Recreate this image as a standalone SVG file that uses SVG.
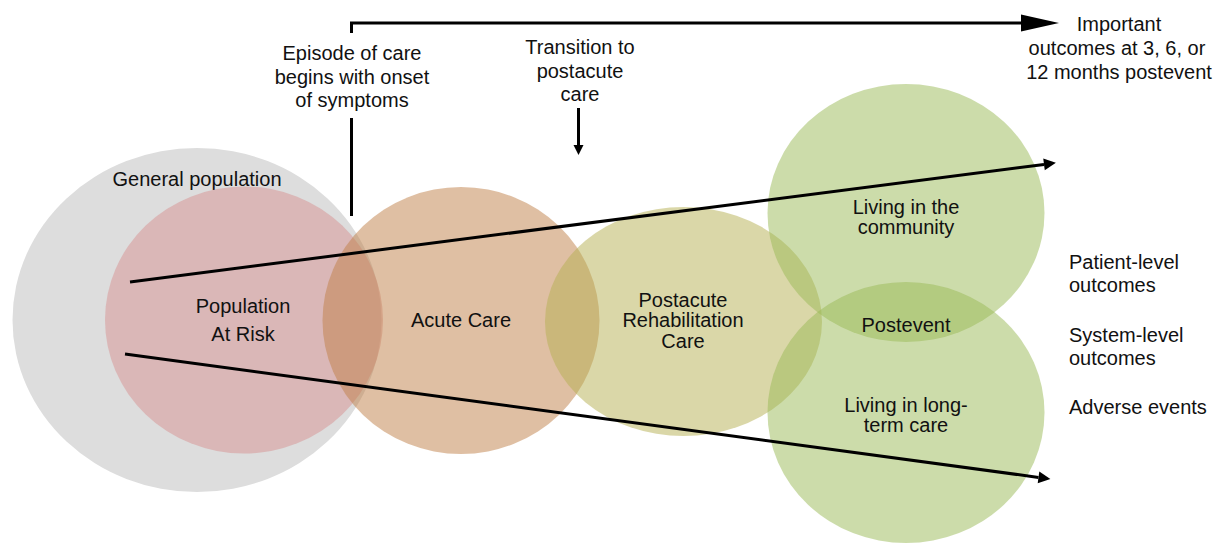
<svg xmlns="http://www.w3.org/2000/svg" width="1222" height="544" viewBox="0 0 1222 544">
  <style>
    text { font-family: "Liberation Sans", Arial, sans-serif; font-size: 20px; fill: #111; }
    .c { text-anchor: middle; }
    .ln { stroke: #000; stroke-width: 3; fill: none; }
    .tan { fill: #BF7F47; fill-opacity: 0.5; }
    .pa { fill: #B5AF51; fill-opacity: 0.5; }
    .gr { fill: #99B955; fill-opacity: 0.5; }
  </style>
  <defs>
    <marker id="ah" markerUnits="userSpaceOnUse" markerWidth="14" markerHeight="14" refX="0" refY="0" viewBox="0 -7 14 14" orient="auto" overflow="visible">
      <path d="M0,-6 L12,0 L0,6 z" fill="#000"/>
    </marker>
    <marker id="ahBig" markerUnits="userSpaceOnUse" markerWidth="40" markerHeight="20" refX="0" refY="0" viewBox="0 -10 40 20" orient="auto" overflow="visible">
      <path d="M0,-8.5 L38,0 L0,8.5 z" fill="#000"/>
    </marker>
    <marker id="ahSm" markerUnits="userSpaceOnUse" markerWidth="12" markerHeight="12" refX="0" refY="0" viewBox="0 -6 12 12" orient="auto" overflow="visible">
      <path d="M0,-5 L10,0 L0,5 z" fill="#000"/>
    </marker>
  </defs>
  <rect width="1222" height="544" fill="#fff"/>

  <g id="general-population">
    <ellipse cx="197" cy="320" rx="184.5" ry="172" fill="#DDDDDD"/>
    <text class="c" x="197" y="186">General population</text>
  </g>
  <g id="population-at-risk">
    <ellipse cx="244" cy="320" rx="139" ry="133.5" fill="#D79191" fill-opacity="0.5"/>
    <text class="c" x="243" y="313">Population</text>
    <text class="c" x="243" y="341">At Risk</text>
  </g>
  <g id="acute-care">
    <ellipse class="tan" cx="461" cy="320.5" rx="138.5" ry="133.5"/>
    <text class="c" x="461" y="327">Acute Care</text>
  </g>
  <g id="postacute">
    <ellipse class="pa" cx="683.5" cy="321.5" rx="138.5" ry="114.5"/>
    <text class="c" x="683" y="307">Postacute</text>
    <text class="c" x="683" y="327">Rehabilitation</text>
    <text class="c" x="683" y="347.5">Care</text>
  </g>
  <g id="living-community">
    <ellipse class="gr" cx="906" cy="213" rx="138.5" ry="129"/>
    <text class="c" x="906" y="214">Living in the</text>
    <text class="c" x="906" y="234">community</text>
  </g>
  <g id="living-ltc">
    <ellipse class="gr" cx="906" cy="412.5" rx="138.5" ry="130.5"/>
    <text class="c" x="906" y="411.5">Living in long-</text>
    <text class="c" x="906" y="431.5">term care</text>
  </g>
  <g id="postevent">
    <text class="c" x="906" y="332">Postevent</text>
  </g>

  <g id="episode-label">
    <text class="c" x="352" y="60">Episode of care</text>
    <text class="c" x="352" y="83.5">begins with onset</text>
    <text class="c" x="352" y="107">of symptoms</text>
  </g>
  <g id="transition-label">
    <text class="c" x="580" y="54">Transition to</text>
    <text class="c" x="580" y="77.5">postacute</text>
    <text class="c" x="580" y="101">care</text>
  </g>
  <g id="important-outcomes">
    <text class="c" x="1119" y="31">Important</text>
    <text class="c" x="1117" y="55">outcomes at 3, 6, or</text>
    <text class="c" x="1119" y="78.5">12 months postevent</text>
  </g>
  <g id="outcome-list">
    <text x="1069" y="269">Patient-level</text>
    <text x="1069" y="292">outcomes</text>
    <text x="1069" y="342">System-level</text>
    <text x="1069" y="365">outcomes</text>
    <text x="1069" y="414">Adverse events</text>
  </g>

  <g id="connectors">
    <polyline class="ln" points="351.5,33 351.5,23 1021,23" marker-end="url(#ahBig)"/>
    <line class="ln" x1="351.5" y1="118" x2="351.5" y2="216"/>
    <line class="ln" x1="578.5" y1="108" x2="578.5" y2="145" stroke-width="2.5" marker-end="url(#ahSm)"/>
    <line class="ln" x1="130" y1="282" x2="1044" y2="164.4" marker-end="url(#ah)"/>
    <line class="ln" x1="125" y1="354" x2="1038.5" y2="477.4" marker-end="url(#ah)"/>
  </g>
</svg>
